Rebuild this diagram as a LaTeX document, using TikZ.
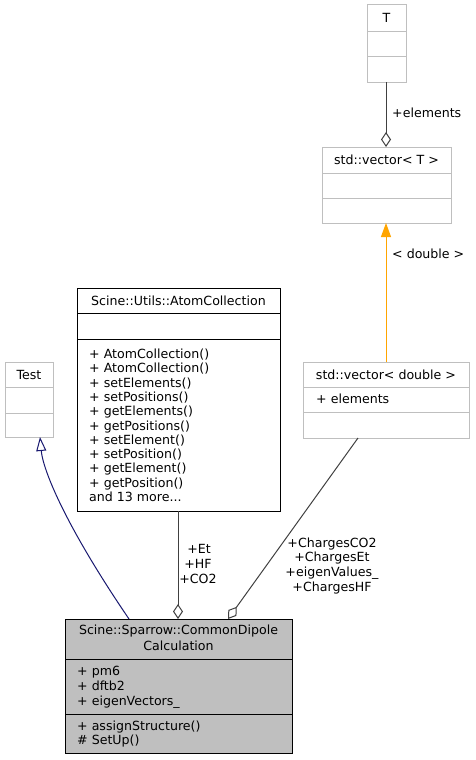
\documentclass[tikz,border=0pt]{standalone}
\usepackage{fontspec}
\setmainfont{DejaVu Sans}
\usetikzlibrary{arrows.meta}
\definecolor{boxgray}{HTML}{BFBFBF}
\definecolor{edgegray}{HTML}{404040}
\definecolor{inhblue}{HTML}{191970}
\definecolor{orangeedge}{HTML}{FFA500}
\definecolor{mainfill}{HTML}{BFBFBF}
\newcommand\umlbox[6]{\node[#2, minimum width={#5-#3}, minimum height={#6-#4}] (#1) at (#3,#4) {};}
\begin{document}
\begin{tikzpicture}[x=1pt,y=-1pt,
  box/.style={draw, line width=1pt, inner sep=0pt, outer sep=0pt, anchor=north west},
  graybox/.style={box, draw=boxgray, fill=white},
  blackbox/.style={box, draw=black, fill=white},
  mainbox/.style={box, draw=black, fill=mainfill},
  grayline/.style={draw=boxgray, line width=1pt},
  blackline/.style={draw=black, line width=1pt},
  txt/.style={inner sep=0pt, font=\fontsize{12.6}{14.3}\selectfont},
  ctxt/.style={txt, anchor=base},
  ltxt/.style={txt, anchor=base west},
  agg/.style={draw=edgegray, line width=1pt, -{Diamond[open, length=15pt, width=10pt]}},
  tmpl/.style={draw=orangeedge, line width=1pt, -{Triangle[length=14pt, width=10pt]}},
  inh/.style={draw=inhblue, line width=1pt, -{Triangle[open, length=14pt, width=10pt]}}
]
\useasboundingbox (0,0) rectangle (475,760);
% T
\umlbox{T}{graybox}{367}{5}{406}{82}
\draw[grayline] (367,32) -- (406,32) (367,57) -- (406,57);
\node[ctxt] (Tt) at (386.5,22.5) {T};
% std::vector< T >
\umlbox{vecT}{graybox}{322}{147}{451}{223}
\draw[grayline] (322,173) -- (451,173) (322,198) -- (451,198);
\node[ctxt] (vecTt) at (386.5,164.5) {std::vector< T >};
% std::vector< double >
\umlbox{vecD}{graybox}{303}{362}{469}{438}
\draw[grayline] (303,387) -- (469,387) (303,412) -- (469,412);
\node[ctxt] (vecDt) at (386,379) {std::vector< double >};
\node[ltxt] (vecDa) at (316,403.5) {+ elements};
% Test
\umlbox{Test}{graybox}{5}{362}{53}{437}
\draw[grayline] (5,387) -- (53,387) (5,413) -- (53,413);
\node[ctxt] (Testt) at (29,379) {Test};
% AtomCollection
\umlbox{Atom}{blackbox}{77}{288}{280}{511}
\draw[blackline] (77,313) -- (280,313) (77,339) -- (280,339);
\node[ctxt] (Atomt) at (178.5,305) {Scine::Utils::AtomCollection};
\foreach \t [count=\i] in {+ AtomCollection(), + AtomCollection(), + setElements(), + setPositions(), + getElements(), + getPositions(), + setElement(), + setPosition(), + getElement(), + getPosition()}
  \node[ltxt] (Atomm\i) at (89,{358.5+14.3*(\i-1)}) {\t};
\node[ltxt] (Atomm11) at (89,501.5) {and 13 more...};
% Main
\umlbox{Main}{mainbox}{65}{619}{292}{753}
\draw[blackline] (65,659) -- (292,659) (65,714) -- (292,714);
\node[ctxt] (Maint1) at (178.5,634.5) {Scine::Sparrow::CommonDipole};
\node[ctxt] (Maint2) at (178.5,650.5) {Calculation};
\node[ltxt] (Maina1) at (77,675.5) {+ pm6};
\node[ltxt] (Maina2) at (77,690.5) {+ dftb2};
\node[ltxt] (Maina3) at (77,705) {+ eigenVectors\_};
\node[ltxt] (Mainm1) at (77,730.5) {+ assignStructure()};
\node[ltxt] (Mainm2) at (77,744.5) {\# SetUp()};
% connectors
\coordinate (vdout) at (358,438);
\coordinate (mdin) at (228,619);
\coordinate (atout) at (178,511);
\coordinate (mtin) at (178,619);
\coordinate (inhs) at (129,619);
\coordinate (inhe) at (40,437);
\coordinate (tout) at (386,82);
\coordinate (vtin) at (386,147);
\coordinate (vdin) at (386,362);
\coordinate (vtout) at (386,223);
\draw[agg] (tout) -- (vtin);
\draw[tmpl] (vdin) -- (vtout);
\draw[agg] (atout) -- (mtin);
\draw[agg] (vdout) -- (mdin);
\draw[inh] (inhs) .. controls (65,525) and (43,470) .. (inhe);
% labels
\node[ltxt] (lel) at (392,117.5) {+elements};
\node[ltxt] (ldb) at (392,258.5) {< double >};
\node[ctxt] (l1) at (199,553.5) {+Et};
\node[ctxt] (l2) at (198,568.5) {+HF};
\node[ctxt] (l3) at (198,583) {+CO2};
\node[ctxt] (l4) at (332,547.5) {+ChargesCO2};
\node[ctxt] (l5) at (332,561.5) {+ChargesEt};
\node[ctxt] (l6) at (332,576.5) {+eigenValues\_};
\node[ctxt] (l7) at (332,591) {+ChargesHF};
\end{tikzpicture}
\end{document}
